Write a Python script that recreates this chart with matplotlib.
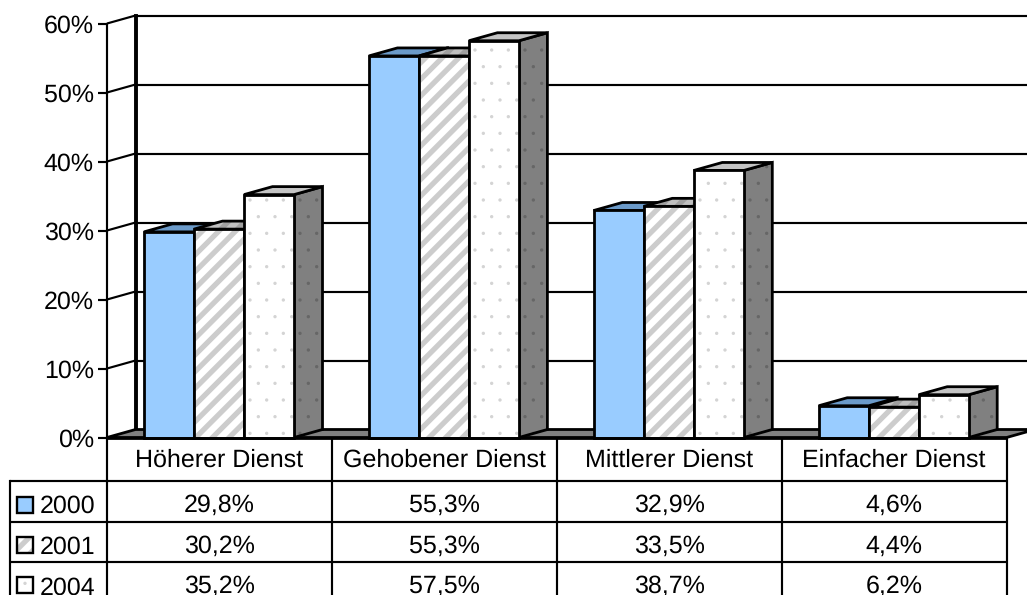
import matplotlib
matplotlib.use("Agg")
import matplotlib.pyplot as plt
from matplotlib.patches import Polygon
from matplotlib.transforms import ScaledTranslation

categories = ["Höherer Dienst", "Gehobener Dienst", "Mittlerer Dienst", "Einfacher Dienst"]
series_names = ["2000", "2001", "2004"]
values_2000 = [29.8, 55.3, 32.9, 4.6]
values_2001 = [30.2, 55.3, 33.5, 4.4]
values_2004 = [35.2, 57.5, 38.7, 6.2]
labels_2000 = ["29,8%", "55,3%", "32,9%", "4,6%"]
labels_2001 = ["30,2%", "55,3%", "33,5%", "4,4%"]
labels_2004 = ["35,2%", "57,5%", "38,7%", "6,2%"]
y_ticks = [0, 10, 20, 30, 40, 50, 60]

plt.rcParams["font.family"] = ["Liberation Sans", "DejaVu Sans"]
plt.rcParams["text.hinting"] = "none"
plt.rcParams["text.hinting_factor"] = 1
W, H = 1027, 595
X0, XS = 107.0, 224.9   # pixel of category 0, pixels per category
Y0, YS = 437.5, 6.9     # pixel of 0 %, pixels per percent


def ux(px):
    return (px - X0) / XS


def uy(py):
    return (Y0 - py) / YS


LW = 1.55
BAR_LW = 2.0
fig = plt.figure(figsize=(W / 100, H / 100), dpi=100, facecolor="white")
ax = fig.add_axes([0, 0, 1, 1])
ax.set_xlim(ux(0), ux(W))
ax.set_ylim(uy(H), uy(0))
ax.set_facecolor("white")
for s in ("top", "right", "bottom"):
    ax.spines[s].set_visible(False)
ax.spines["left"].set_position(("data", 0))
ax.spines["left"].set_bounds(0, 60)
ax.spines["left"].set_linewidth(LW)
ax.spines["left"].set_zorder(2)
ax.set_xticks([])
ax.set_yticks(y_ticks)
ax.set_yticklabels([f"{v}%" for v in y_ticks], fontsize=17.8, color="black")
ax.tick_params(axis="y", direction="out", length=6.5, width=LW, pad=3)
shift = ScaledTranslation(0, -9 / 100, fig.dpi_scale_trans)
for lab in ax.get_yticklabels():
    lab.set_verticalalignment("baseline")
    lab.set_transform(lab.get_transform() + shift)

DX, DY = 28.5 / XS, 8.0 / YS
BLACK = "black"

# walls and gridlines
for v in y_ticks[1:]:
    ax.plot([0, DX], [v, v + DY], color=BLACK, lw=LW, zorder=1, solid_capstyle="butt")
    ax.plot([DX, ux(W)], [v + DY, v + DY], color=BLACK, lw=LW, zorder=1, solid_capstyle="butt")
ax.plot([DX, DX], [DY, 60 + DY], color=BLACK, lw=2.8, zorder=1.5, solid_capstyle="projecting")

# floor
n = len(categories)
ax.add_patch(Polygon([(0, 0), (DX, DY), (n + DX, DY), (n, 0)], closed=True,
                     facecolor="#808080", edgecolor=BLACK, lw=BAR_LW, zorder=2, clip_on=True))


def face(points, color, hatch=None, hatch_color=None, hatch_lw=1.0, z=3.0, lw=BAR_LW):
    if hatch:
        with plt.rc_context({"hatch.linewidth": hatch_lw}):
            p = Polygon(points, closed=True, facecolor=color, edgecolor=hatch_color,
                        hatch=hatch, lw=0, zorder=z)
            if hasattr(p, "set_hatch_linewidth"):
                p.set_hatch_linewidth(hatch_lw)
        ax.add_patch(p)
    else:
        ax.add_patch(Polygon(points, closed=True, facecolor=color, edgecolor="none", zorder=z))
    ax.add_patch(Polygon(points, closed=True, facecolor="none", edgecolor=BLACK, lw=lw,
                         joinstyle="miter", zorder=z + 0.01))


styles = [
    dict(front=("#99CCFF", None, None, 0), top=("#6B9AC9", None, None, 0), side=("#5C85AD", None, None, 0)),
    dict(front=("white", "//", "#CCCCCC", 3.8), top=("#C0C0C0", "//", "#A0A0A0", 3.8), side=("#808080", "//", "#666666", 3.8)),
    dict(front=("white", ".", "#D4D4D4", 0.0), top=("#C4C4C4", None, None, 0), side=("#808080", ".", "#666666", 0.0)),
]
series = [values_2000, values_2001, values_2004]
BW = 50.0 / XS
OFF = 37.0 / XS

for i in range(n):
    for j, vals in enumerate(series):
        v = vals[i]
        x0 = i + OFF + j * BW
        x1 = x0 + BW
        st = styles[j]
        z = 3 + i + j * 0.1
        c, h, hc, hl = st["side"]
        face([(x1, 0), (x1 + DX, DY), (x1 + DX, v + DY), (x1, v)], c, h, hc, hl, z)
        c, h, hc, hl = st["top"]
        face([(x0, v), (x0 + DX, v + DY), (x1 + DX, v + DY), (x1, v)], c, h, hc, hl, z + 0.02)
        c, h, hc, hl = st["front"]
        face([(x0, 0), (x0, v), (x1, v), (x1, 0)], c, h, hc, hl, z + 0.04)

# data table
Z = 20
row_lines = [uy(481), uy(522), uy(562)]
bottom = uy(H + 8)
ax.plot([0, n], [0, 0], color=BLACK, lw=BAR_LW, zorder=Z, solid_capstyle="butt")
for i in range(n + 1):
    ax.plot([i, i], [0, bottom], color=BLACK, lw=LW, zorder=Z, solid_capstyle="butt", clip_on=True)
ax.plot([ux(10.5), ux(10.5)], [row_lines[0], bottom], color=BLACK, lw=LW, zorder=Z)
for r in row_lines:
    ax.plot([ux(10), n], [r, r], color=BLACK, lw=LW, zorder=Z, solid_capstyle="butt")

for i, cat in enumerate(categories):
    ax.text(i + 0.5, uy(467), cat, ha="center", va="baseline", fontsize=18, color=BLACK, zorder=Z)

value_baselines = [512, 552.5, 593]
name_baselines = [513, 553.5, 594.5]
key_tops = [497, 537, 577]
label_rows = [labels_2000, labels_2001, labels_2004]
key_faces = [("#99CCFF", None, None, 0), ("white", "//", "#CCCCCC", 3.8), ("white", ".", "#D4D4D4", 0.0)]
for vb, nb, kt, labs, name, kf in zip(value_baselines, name_baselines, key_tops, label_rows, series_names, key_faces):
    for i, lab in enumerate(labs):
        ax.text(i + 0.5, uy(vb), lab, ha="center", va="baseline", fontsize=17.8, color=BLACK, zorder=Z)
    ax.text(ux(40), uy(nb), name, ha="left", va="baseline", fontsize=18, color=BLACK, zorder=Z)
    kx0, kx1 = ux(17.5), ux(33.5)
    ky0, ky1 = uy(kt), uy(kt + 16)
    c, h, hc, hl = kf
    face([(kx0, ky0), (kx0, ky1), (kx1, ky1), (kx1, ky0)], c, h, hc, hl, Z, lw=1.7)

fig.savefig("out.png", dpi=100, facecolor="white")
